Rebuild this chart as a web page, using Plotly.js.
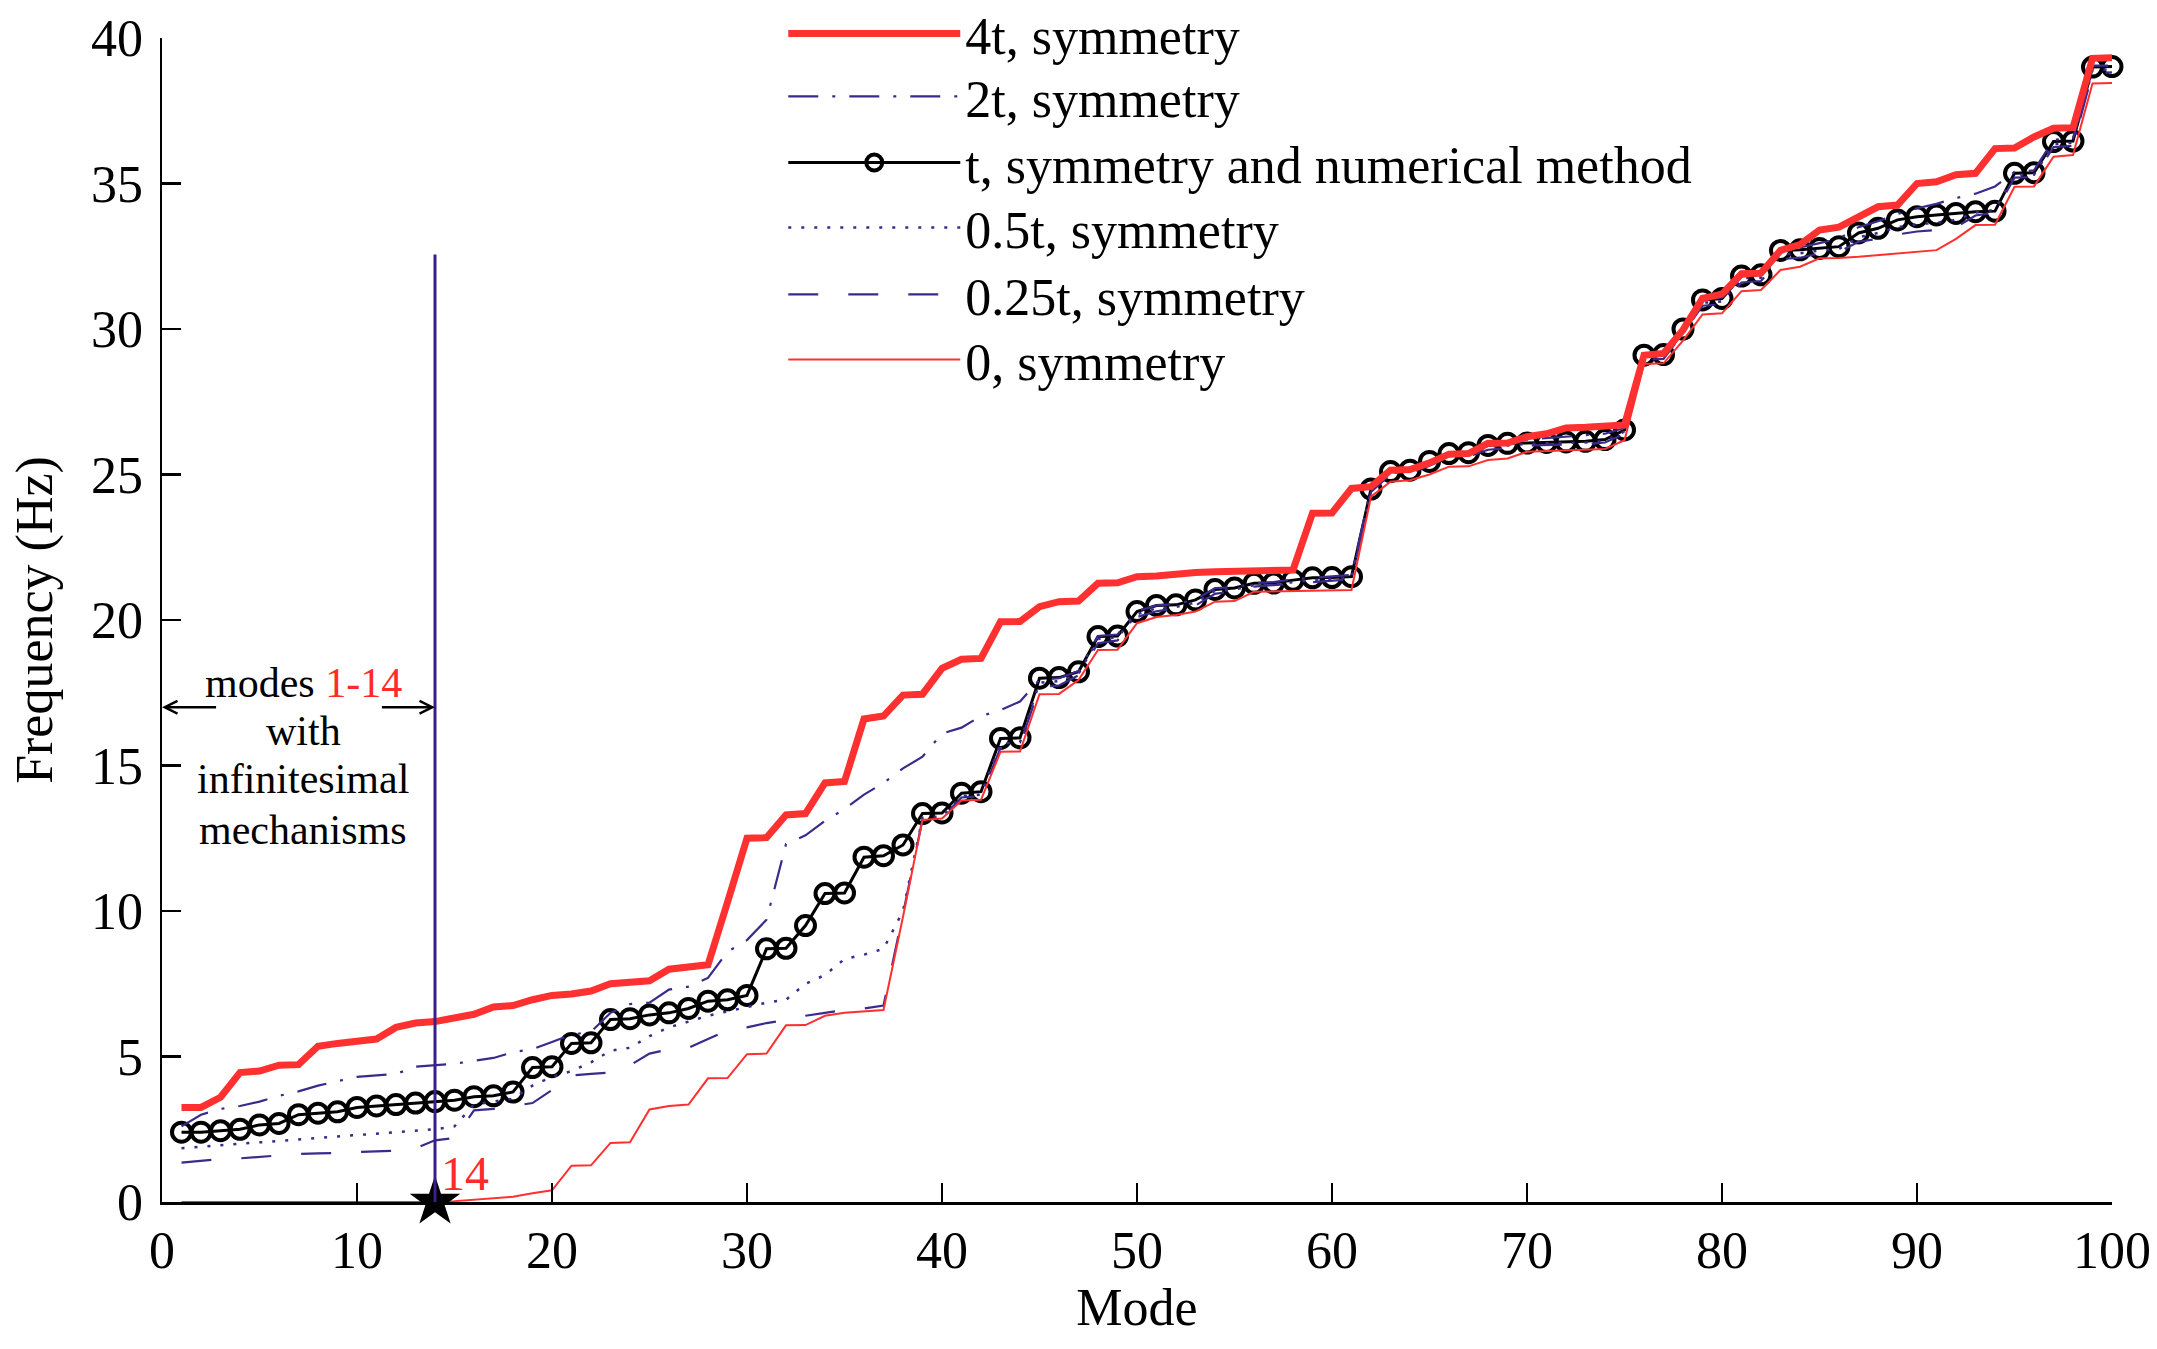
<!DOCTYPE html>
<html>
<head>
<meta charset="utf-8">
<script src="https://cdn.plot.ly/plotly-3.0.1.min.js"></script>
<style>
  html, body { margin: 0; padding: 0; background: #fff; }
  #chart { width: 2157px; height: 1349px; }
</style>
</head>
<body>
<div id="chart"></div>
<script>
// mode numbers 1..100 (x axis index)
var modes = [];
for (var i = 1; i <= 100; i++) modes.push(i);

// natural frequencies (Hz)
var freq4t = [
  3.25, 3.25, 3.60, 4.45, 4.50, 4.70, 4.72, 5.35, 5.45, 5.55,
  5.60, 6.00, 6.15, 6.20, 6.35, 6.45, 6.70, 6.75, 6.95, 7.10,
  7.15, 7.25, 7.50, 7.55, 7.60, 8.00, 8.05, 8.15, 10.30, 12.50,
  12.52, 13.30, 13.35, 14.40, 14.45, 16.60, 16.70, 17.42, 17.45, 18.34,
  18.65, 18.68, 19.94, 19.95, 20.46, 20.63, 20.65, 21.26, 21.28, 21.49,
  21.51, 21.60, 21.63, 21.66, 21.68, 21.70, 21.71, 21.72, 23.67, 23.68,
  24.52, 24.58, 25.15, 25.17, 25.40, 25.70, 25.72, 26.07, 26.08, 26.30,
  26.40, 26.60, 26.62, 26.64, 26.70, 29.10, 29.16, 29.97, 31.05, 31.20,
  31.90, 31.92, 32.70, 32.90, 33.40, 33.50, 33.86, 34.20, 34.26, 35.00,
  35.06, 35.30, 35.35, 36.20, 36.22, 36.60, 36.90, 36.92, 39.30, 39.32
];
var freq2t = [
  2.60, 3.00, 3.20, 3.30, 3.45, 3.65, 3.80, 4.00, 4.15, 4.30,
  4.35, 4.40, 4.65, 4.70, 4.75, 4.85, 4.95, 5.15, 5.25, 5.50,
  5.75, 5.85, 6.50, 6.80, 6.85, 7.30, 7.40, 7.70, 8.60, 9.00,
  9.70, 12.30, 12.60, 13.10, 13.50, 14.00, 14.40, 14.90, 15.30, 16.10,
  16.30, 16.70, 16.90, 17.20, 17.95, 18.00, 18.25, 19.45, 19.50, 20.30,
  20.50, 20.55, 20.70, 21.10, 21.12, 21.27, 21.30, 21.40, 21.45, 21.50,
  21.55, 24.55, 25.15, 25.20, 25.45, 25.75, 25.78, 26.05, 26.10, 26.20,
  26.25, 26.30, 26.35, 26.40, 26.60, 29.10, 29.12, 30.00, 31.00, 31.08,
  31.88, 31.90, 32.75, 32.80, 32.95, 33.10, 33.50, 33.70, 33.95, 34.15,
  34.30, 34.50, 34.65, 34.90, 35.40, 35.45, 36.50, 36.55, 39.05, 39.05
];
var freqT = [
  2.40, 2.40, 2.45, 2.50, 2.65, 2.70, 3.00, 3.05, 3.10, 3.25,
  3.30, 3.35, 3.40, 3.45, 3.50, 3.62, 3.65, 3.78, 4.62, 4.65,
  5.45, 5.47, 6.27, 6.30, 6.43, 6.50, 6.65, 6.90, 6.95, 7.10,
  8.70, 8.72, 9.50, 10.60, 10.62, 11.85, 11.90, 12.27, 13.35, 13.37,
  14.05, 14.10, 15.93, 15.95, 18.00, 18.02, 18.22, 19.43, 19.45, 20.29,
  20.50, 20.52, 20.69, 21.05, 21.10, 21.26, 21.27, 21.37, 21.45, 21.46,
  21.49, 24.50, 25.10, 25.15, 25.45, 25.72, 25.75, 26.00, 26.07, 26.08,
  26.10, 26.12, 26.14, 26.20, 26.53, 29.10, 29.12, 30.00, 31.00, 31.05,
  31.82, 31.86, 32.70, 32.72, 32.77, 32.83, 33.30, 33.46, 33.75, 33.86,
  33.92, 33.97, 34.03, 34.05, 35.35, 35.37, 36.44, 36.46, 39.00, 39.02
];
var freq05t = [
  1.85, 1.90, 1.95, 2.00, 2.05, 2.10, 2.15, 2.20, 2.25, 2.30,
  2.33, 2.38, 2.45, 2.50, 2.60, 3.35, 3.45, 3.55, 4.00, 4.30,
  4.50, 4.80, 5.20, 5.30, 5.70, 6.00, 6.20, 6.40, 6.55, 6.70,
  6.85, 6.95, 7.50, 7.80, 8.35, 8.50, 8.70, 10.00, 13.20, 13.25,
  13.95, 14.00, 15.75, 15.80, 17.85, 17.90, 18.15, 19.35, 19.40, 20.20,
  20.40, 20.45, 20.60, 21.00, 21.05, 21.20, 21.22, 21.30, 21.38, 21.40,
  21.45, 24.45, 25.05, 25.10, 25.40, 25.68, 25.70, 25.95, 26.00, 26.05,
  26.07, 26.08, 26.10, 26.15, 26.48, 29.05, 29.06, 29.90, 30.90, 30.95,
  31.75, 31.76, 32.55, 32.60, 32.70, 32.75, 33.15, 33.30, 33.50, 33.60,
  33.65, 33.75, 34.00, 34.10, 35.30, 35.30, 36.35, 36.40, 38.90, 38.92
];
var freq025t = [
  1.35, 1.42, 1.48, 1.50, 1.55, 1.58, 1.65, 1.67, 1.68, 1.72,
  1.75, 1.76, 1.85, 2.12, 2.20, 3.15, 3.20, 3.30, 3.40, 3.85,
  4.35, 4.40, 4.45, 4.70, 5.10, 5.25, 5.30, 5.60, 5.90, 6.00,
  6.15, 6.25, 6.40, 6.50, 6.60, 6.65, 6.75, 9.90, 13.15, 13.20,
  13.90, 13.95, 15.60, 15.70, 17.70, 17.75, 18.10, 19.20, 19.30, 20.10,
  20.30, 20.40, 20.50, 20.90, 21.00, 21.15, 21.20, 21.25, 21.30, 21.35,
  21.40, 24.40, 25.00, 25.05, 25.30, 25.60, 25.62, 25.85, 25.90, 26.00,
  26.01, 26.02, 26.04, 26.10, 26.40, 28.95, 28.97, 29.85, 30.80, 30.85,
  31.60, 31.65, 32.40, 32.45, 32.60, 32.65, 33.00, 33.10, 33.25, 33.35,
  33.40, 33.50, 33.90, 34.00, 35.20, 35.22, 36.25, 36.30, 38.80, 38.82
];
var freq0 = [
  0, 0, 0, 0, 0, 0, 0, 0, 0, 0,
  0, 0, 0, 0, 0.03, 0.08, 0.12, 0.18, 0.30, 0.40,
  1.25, 1.26, 2.03, 2.05, 3.18, 3.30, 3.35, 4.25, 4.26, 5.08,
  5.10, 6.07, 6.08, 6.40, 6.50, 6.55, 6.60, 9.80, 13.13, 13.18,
  13.80, 13.82, 15.47, 15.48, 17.45, 17.46, 17.94, 18.97, 18.98, 19.89,
  20.10, 20.17, 20.29, 20.63, 20.65, 20.97, 20.98, 21.00, 21.01, 21.02,
  21.03, 24.24, 24.75, 24.80, 25.00, 25.27, 25.28, 25.50, 25.55, 25.78,
  25.80, 25.82, 25.85, 25.88, 26.18, 28.80, 28.82, 29.60, 30.50, 30.54,
  31.30, 31.34, 32.03, 32.14, 32.43, 32.44, 32.48, 32.54, 32.60, 32.66,
  32.71, 33.10, 33.57, 33.58, 34.89, 34.90, 35.92, 35.98, 38.44, 38.45
];

var seriesNames = ['4t, symmetry', '2t, symmetry', 't, symmetry and numerical method',
                   '0.5t, symmetry', '0.25t, symmetry', '0, symmetry'];

// infinitesimal mechanism marker
var mechMode = 14;
var mechLineTop = 32.56;
var arrowLevel = 17.0;
var noteLines = ['modes <span style="color:#ff2a2a">1-14</span>', 'with', 'infinitesimal', 'mechanisms'];
var noteLevels = [17.85, 16.2, 14.52, 12.8];

var RED = '#ff3030';
var BLUE = '#3b2a8c';
var FONT = 'Liberation Serif, Times New Roman, serif';

var traceT = {
  x: modes, y: freqT, name: seriesNames[2], legend: 'legend3',
  type: 'scatter', mode: 'lines+markers', cliponaxis: false,
  line: {color: '#000', width: 3},
  marker: {symbol: 'circle-open', size: 19, color: '#000', line: {width: 4}}
};
var trace025 = {
  x: modes, y: freq025t, name: seriesNames[4], legend: 'legend5',
  type: 'scatter', mode: 'lines',
  line: {color: BLUE, width: 2.2, dash: '30px,30px'}
};
var trace05 = {
  x: modes, y: freq05t, name: seriesNames[3], legend: 'legend4',
  type: 'scatter', mode: 'lines',
  line: {color: BLUE, width: 2.5, dash: '3px,10px'}
};
var trace2t = {
  x: modes, y: freq2t, name: seriesNames[1], legend: 'legend2',
  type: 'scatter', mode: 'lines',
  line: {color: BLUE, width: 2.2, dash: '30px,14px,3px,14px'}
};
var trace0 = {
  x: modes, y: freq0, name: seriesNames[5], legend: 'legend6',
  type: 'scatter', mode: 'lines', cliponaxis: false,
  line: {color: RED, width: 2}
};
var trace4t = {
  x: modes, y: freq4t, name: seriesNames[0], legend: 'legend',
  type: 'scatter', mode: 'lines',
  line: {color: RED, width: 7}
};
var traceStar = {
  x: [mechMode], y: [0], type: 'scatter', mode: 'markers',
  showlegend: false, cliponaxis: false,
  marker: {symbol: 'star', size: 38, color: '#000'}
};

var data = [traceT, trace025, trace05, trace2t, trace0, trace4t, traceStar];

function legendAt(yPos) {
  return {
    x: 0.3186, y: yPos, xanchor: 'left', yanchor: 'middle',
    bgcolor: 'rgba(0,0,0,0)', borderwidth: 0,
    itemwidth: 172,
    font: {family: FONT, size: 52, color: '#000'}
  };
}

var annotations = [];
noteLines.forEach(function (t, k) {
  annotations.push({
    x: 7.25, y: noteLevels[k], xref: 'x', yref: 'y', text: t, showarrow: false,
    font: {family: FONT, size: 42, color: '#000'}
  });
});
annotations.push({
  x: 0, y: arrowLevel, ax: 2.85, ay: arrowLevel, xref: 'x', yref: 'y',
  axref: 'x', ayref: 'y', text: '', showarrow: true,
  arrowhead: 5, arrowsize: 1, arrowwidth: 2.5, arrowcolor: '#000'
});
annotations.push({
  x: mechMode, y: arrowLevel, ax: 11.2, ay: arrowLevel, xref: 'x', yref: 'y',
  axref: 'x', ayref: 'y', text: '', showarrow: true,
  arrowhead: 5, arrowsize: 1, arrowwidth: 2.5, arrowcolor: '#000'
});
annotations.push({
  x: mechMode + 0.2, y: 0, xref: 'x', yref: 'y', text: '14', showarrow: false,
  xanchor: 'left', yanchor: 'bottom',
  font: {family: FONT, size: 48, color: '#ff2a2a'}
});

var axisBase = {
  showgrid: false, zeroline: false, showline: true, mirror: false,
  linecolor: '#000', linewidth: 2.5,
  ticks: 'inside', ticklen: 19, tickwidth: 2.5, tickcolor: '#000',
  tickfont: {family: FONT, size: 52, color: '#000'}
};

var layout = {
  width: 2157, height: 1349,
  margin: {l: 162, r: 45, t: 38, b: 147, autoexpand: false},
  paper_bgcolor: '#fff', plot_bgcolor: '#fff',
  font: {family: FONT, color: '#000'},
  showlegend: true,
  xaxis: Object.assign({}, axisBase, {
    range: [0, 100], tickmode: 'linear', tick0: 0, dtick: 10,
    ticklabelstandoff: 1,
    title: {text: 'Mode', font: {family: FONT, size: 52}, standoff: 11}
  }),
  yaxis: Object.assign({}, axisBase, {
    range: [0, 40], tickmode: 'linear', tick0: 0, dtick: 5,
    ticklabelstandoff: 6,
    title: {text: 'Frequency (Hz)', font: {family: FONT, size: 52}, standoff: 22}
  }),
  legend: legendAt(1.0038),
  legend2: legendAt(0.9496),
  legend3: legendAt(0.8929),
  legend4: legendAt(0.8371),
  legend5: legendAt(0.7795),
  legend6: legendAt(0.7237),
  shapes: [{
    type: 'line', xref: 'x', yref: 'y', layer: 'above',
    x0: mechMode, x1: mechMode, y0: 0, y1: mechLineTop,
    line: {color: '#3a1f8c', width: 3}
  }],
  annotations: annotations
};

Plotly.newPlot('chart', data, layout, {displayModeBar: false, staticPlot: true});
</script>
</body>
</html>
